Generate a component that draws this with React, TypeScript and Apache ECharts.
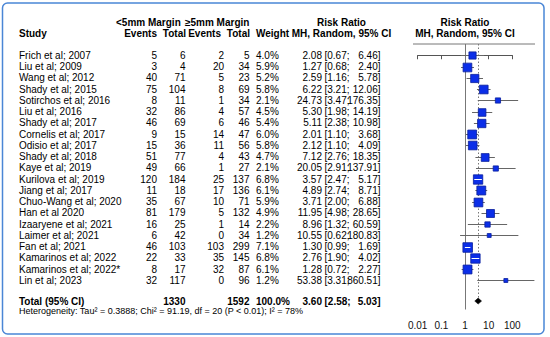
import React, { useEffect, useRef } from "react";
import * as echarts from "echarts";

const STUDIES = [
  "Frich et al; 2007",
  "Liu et al; 2009",
  "Wang et al; 2012",
  "Shady et al; 2015",
  "Sotirchos et al; 2016",
  "Liu et al; 2016",
  "Shady et al; 2017",
  "Cornelis et al; 2017",
  "Odisio et al; 2017",
  "Shady et al; 2018",
  "Kaye et al; 2019",
  "Kurilova et al; 2019",
  "Jiang et al; 2017",
  "Chuo-Wang et al; 2020",
  "Han et al 2020",
  "Izaaryene et al; 2021",
  "Laimer et al; 2021",
  "Fan et al; 2021",
  "Kamarinos et al; 2022",
  "Kamarinos et al; 2022*",
  "Lin et al; 2023",
];
const EVENTS_LT5 = [5, 3, 40, 75, 8, 32, 46, 9, 15, 51, 49, 120, 11, 35, 81, 16, 6, 46, 22, 8, 32];
const TOTAL_LT5 = [6, 4, 71, 104, 11, 86, 69, 15, 36, 77, 66, 184, 18, 67, 179, 25, 42, 103, 33, 17, 117];
const EVENTS_GE5 = [2, 20, 5, 8, 1, 4, 6, 14, 11, 4, 1, 25, 17, 10, 5, 1, 0, 103, 35, 32, 0];
const TOTAL_GE5 = [5, 34, 23, 69, 34, 57, 46, 47, 56, 43, 27, 137, 136, 71, 132, 14, 34, 299, 145, 87, 96];
const WEIGHTS = [4.0, 5.9, 5.2, 5.8, 2.1, 4.5, 5.4, 6.0, 5.8, 4.7, 2.1, 6.8, 6.1, 5.9, 4.9, 2.2, 1.2, 7.1, 6.8, 6.1, 1.2];
const RR = [2.08, 1.27, 2.59, 6.22, 24.73, 5.3, 5.11, 2.01, 2.12, 7.12, 20.05, 3.57, 4.89, 3.71, 11.95, 8.96, 10.55, 1.3, 2.76, 1.28, 53.38];
const RR_LOWER = [0.67, 0.68, 1.16, 3.21, 3.47, 1.98, 2.38, 1.1, 1.1, 2.76, 2.91, 2.47, 2.74, 2.0, 4.98, 1.32, 0.62, 0.99, 1.9, 0.72, 3.31];
const RR_UPPER = [6.46, 2.4, 5.78, 12.06, 176.35, 14.19, 10.98, 3.68, 4.09, 18.35, 137.91, 5.17, 8.71, 6.88, 28.65, 60.59, 180.83, 1.69, 4.02, 2.27, 860.51];

const TOTAL_LABEL = "Total (95% CI)";
const TOTAL_N_LT5 = 1330;
const TOTAL_N_GE5 = 1592;
const TOTAL_WEIGHT = 100.0;
const POOLED_RR = 3.6;
const POOLED_LOWER = 2.58;
const POOLED_UPPER = 5.03;
const HETEROGENEITY = "Heterogeneity: Tau\u00b2 = 0.3888; Chi\u00b2 = 91.19, df = 20 (P < 0.01); I\u00b2 = 78%";
const TICK_LABELS = ["0.01", "0.1", "1", "10", "100"];

const FONT_FAMILY = "Liberation Sans";

const ROW_MIN = -1;
const ROW_MAX = 22.6;
const TOTAL_ROW = 21.85;
const HET_ROW = 22.75;

// column pixel positions
const COL = {
  study: 19,
  ev1: 157,
  tot1: 185.5,
  ev2: 224,
  tot2: 249.5,
  weight: 256,
  est: 322,
  lower: 324.5,
  upper: 380.5,
};

function txt(text: string, x: number, y: number, align: string, bold = false, size = 10) {
  return {
    type: "text",
    x,
    y,
    style: {
      text,
      fontSize: size,
      fontFamily: FONT_FAMILY,
      fontWeight: bold ? "bold" : "normal",
      fill: "#000",
      align,
      verticalAlign: "middle",
    },
  };
}

export default function App() {
  const ref = useRef<HTMLDivElement>(null);
  useEffect(() => {
    if (!ref.current) return;
    const chart = echarts.init(ref.current, null, { renderer: "svg" });

    const studyData = RR.map((v, i) => [v, i, RR_LOWER[i], RR_UPPER[i], WEIGHTS[i]]);
    const tableData = STUDIES.map((_, i) => [1, i]);

    const option: any = {
      animation: false,
      backgroundColor: "#fff",
      grid: {
        left: 417.7,
        right: 37.7,
        top: 44,
        bottom: 27.5,
        containLabel: false,
        outerBoundsMode: "none",
      },
      xAxis: {
        type: "log",
        logBase: 10,
        min: 0.01,
        max: 100,
        axisLine: { show: true, lineStyle: { color: "#555", width: 1 } },
        axisTick: { show: true, length: 4, lineStyle: { color: "#555" } },
        minorTick: { show: false },
        splitLine: { show: false },
        axisLabel: {
          margin: 11,
          fontSize: 10,
          fontFamily: FONT_FAMILY,
          color: "#111",
          formatter: (_v: number, idx: number) => TICK_LABELS[idx] ?? "",
        },
      },
      yAxis: {
        type: "value",
        inverse: true,
        min: ROW_MIN,
        max: ROW_MAX,
        show: false,
        splitLine: { show: false },
      },
      graphic: [
        {
          type: "rect",
          z: -10,
          shape: { x: 2.5, y: 3, width: 541.5, height: 331, r: 5 },
          style: { fill: "none", stroke: "#4a86d6", lineWidth: 1.5 },
        },
        {
          type: "line",
          shape: { x1: 413, y1: 44, x2: 535, y2: 44 },
          style: { stroke: "#777", lineWidth: 1 },
        },
        txt("<5mm Margin", 116, 22.5, "left", true),
        txt("\u22655mm Margin", 185, 22.5, "left", true),
        txt("Risk Ratio", 341.5, 22.5, "center", true),
        txt("Risk Ratio", 465, 22.5, "center", true),
        txt("Study", 19, 33.5, "left", true),
        txt("Events", 157, 33.5, "right", true),
        txt("Total", 186, 33.5, "right", true),
        txt("Events", 221, 33.5, "right", true),
        txt("Total", 250, 33.5, "right", true),
        txt("Weight", 256, 33.5, "left", true),
        txt("MH, Random, 95% CI", 341.5, 33.5, "center", true),
        txt("MH, Random, 95% CI", 465, 33.5, "center", true),
      ],
      series: [
        {
          // reference lines
          type: "custom",
          coordinateSystem: "cartesian2d",
          clip: false,
          silent: true,
          data: [[1, 0]],
          encode: { x: 0, y: 1 },
          renderItem: (_p: any, api: any) => {
            const x1 = Math.round(api.coord([1, ROW_MIN])[0]) + 0.5;
            const xp = Math.round(api.coord([POOLED_RR, ROW_MIN])[0]) + 0.5;
            const yTop = api.coord([1, ROW_MIN])[1];
            const yBot = api.coord([1, ROW_MAX])[1];
            const yDia = api.coord([1, TOTAL_ROW])[1];
            return {
              type: "group",
              children: [
                { type: "line", shape: { x1, y1: yTop, x2: x1, y2: yBot }, style: { stroke: "#777", lineWidth: 1 } },
                {
                  type: "line",
                  shape: { x1: xp, y1: yTop, x2: xp, y2: yDia },
                  style: { stroke: "#777", lineWidth: 1, lineDash: [1.5, 2] },
                },
              ],
            };
          },
        },
        {
          // studies
          type: "custom",
          coordinateSystem: "cartesian2d",
          clip: false,
          data: studyData,
          encode: { x: 0, y: 1 },
          renderItem: (_p: any, api: any) => {
            const est = api.value(0);
            const row = api.value(1);
            const lo = api.value(2);
            const hi = api.value(3);
            const w = api.value(4);
            const [xe, yRaw] = api.coord([est, row]);
            const y = Math.round(yRaw) + 0.5;
            const xl = api.coord([lo, row])[0];
            const xh = api.coord([hi, row])[0];
            const s = 3.6 * Math.sqrt(w);
            const inside = xl >= xe - s / 2 && xh <= xe + s / 2;
            const children: any[] = [
              { type: "line", shape: { x1: xl, y1: y, x2: xh, y2: y }, style: { stroke: "#666", lineWidth: 1 } },
              {
                type: "rect",
                shape: { x: xe - s / 2, y: y - s / 2, width: s, height: s },
                style: { fill: "#0b2ee8", stroke: "#0a1f9c", lineWidth: 0.8 },
              },
            ];
            if (inside) {
              children.push({
                type: "line",
                shape: { x1: xl, y1: y, x2: xh, y2: y },
                style: { stroke: "#fff", lineWidth: 1 },
              });
            }
            return { type: "group", children };
          },
        },
        {
          // pooled diamond
          type: "custom",
          coordinateSystem: "cartesian2d",
          clip: false,
          data: [[POOLED_RR, TOTAL_ROW, POOLED_LOWER, POOLED_UPPER]],
          encode: { x: 0, y: 1 },
          renderItem: (_p: any, api: any) => {
            const [xe, y] = api.coord([api.value(0), api.value(1)]);
            const xl = api.coord([api.value(2), api.value(1)])[0];
            const xh = api.coord([api.value(3), api.value(1)])[0];
            const h = 3;
            return {
              type: "polygon",
              shape: { points: [[xl, y], [xe, y - h], [xh, y], [xe, y + h]] },
              style: { fill: "#000", stroke: "#000", lineWidth: 0.5 },
            };
          },
        },
        {
          // table text
          type: "custom",
          coordinateSystem: "cartesian2d",
          clip: false,
          silent: true,
          data: tableData,
          encode: { x: 0, y: 1 },
          renderItem: (p: any, api: any) => {
            const i = p.dataIndex;
            const y = api.coord([1, api.value(1)])[1];
            const children: any[] = [
              txt(STUDIES[i], COL.study, y, "left"),
              txt(String(EVENTS_LT5[i]), COL.ev1, y, "right"),
              txt(String(TOTAL_LT5[i]), COL.tot1, y, "right"),
              txt(String(EVENTS_GE5[i]), COL.ev2, y, "right"),
              txt(String(TOTAL_GE5[i]), COL.tot2, y, "right"),
              txt(WEIGHTS[i].toFixed(1) + "%", COL.weight, y, "left"),
              txt(RR[i].toFixed(2), COL.est, y, "right"),
              txt("[" + RR_LOWER[i].toFixed(2) + ";", COL.lower, y, "left"),
              txt(RR_UPPER[i].toFixed(2) + "]", COL.upper, y, "right"),
            ];
            if (i === STUDIES.length - 1) {
              const yt = api.coord([1, TOTAL_ROW])[1];
              const yh = api.coord([1, HET_ROW])[1];
              children.push(
                txt(TOTAL_LABEL, COL.study, yt, "left", true),
                txt(String(TOTAL_N_LT5), COL.tot1, yt, "right", true),
                txt(String(TOTAL_N_GE5), COL.tot2, yt, "right", true),
                txt(TOTAL_WEIGHT.toFixed(1) + "%", COL.weight, yt, "left", true),
                txt(POOLED_RR.toFixed(2), COL.est, yt, "right", true),
                txt("[" + POOLED_LOWER.toFixed(2) + ";", COL.lower, yt, "left", true),
                txt(POOLED_UPPER.toFixed(2) + "]", COL.upper, yt, "right", true),
                txt(HETEROGENEITY, COL.study, yh, "left", false, 9)
              );
            }
            return { type: "group", children };
          },
        },
      ],
    };
    chart.setOption(option);
    return () => chart.dispose();
  }, []);

  return (
    <div
      ref={ref}
      style={{ position: "fixed", left: 0, top: 0, width: 550, height: 337, background: "#fff" }}
    />
  );
}
